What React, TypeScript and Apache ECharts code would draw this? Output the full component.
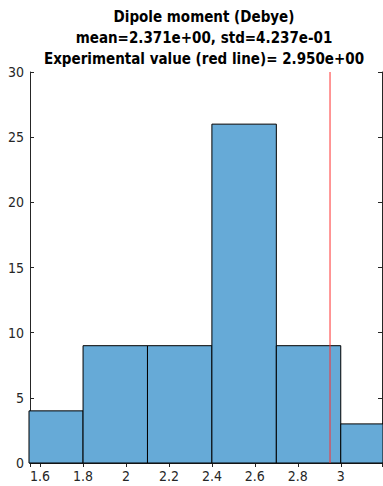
import React, { useEffect, useRef } from "react";
import * as echarts from "echarts";

// Histogram bin edges and counts
const binEdges = [1.5, 1.8, 2.1, 2.4, 2.7, 3.0, 3.3];
const binCounts = [4, 9, 9, 26, 9, 3];
const experimentalValue = 2.95;
const xRange = [1.553, 3.192];
const yTicks = [0, 5, 10, 15, 20, 25, 30];
const titleLines = [
  "Dipole moment (Debye)",
  "mean=2.371e+00, std=4.237e-01",
  "Experimental value (red line)= 2.950e+00",
];

const FONT = "'DejaVu Sans Condensed', 'DejaVu Sans', sans-serif";
const AXIS_COLOR = "#262626";

export default function App() {
  const ref = useRef<HTMLDivElement>(null);

  useEffect(() => {
    if (!ref.current) return;
    const chart = echarts.init(ref.current, undefined, { renderer: "svg" });

    const bins = binCounts.map((c, i) => [binEdges[i], binEdges[i + 1], c]);

    const renderBin = (params: any, api: any) => {
      const x0 = api.value(0);
      const x1 = api.value(1);
      const h = api.value(2);
      const p0 = api.coord([x0, h]);
      const p1 = api.coord([x1, 0]);
      const cs = params.coordSys;
      const shape = echarts.graphic.clipRectByRect(
        { x: p0[0], y: p0[1], width: p1[0] - p0[0], height: p1[1] - p0[1] },
        { x: cs.x - 1, y: cs.y, width: cs.width + 2, height: cs.height }
      );
      if (!shape) return null;
      return {
        type: "rect",
        shape,
        style: { fill: "rgb(102,170,215)", stroke: "#000", lineWidth: 1 },
      };
    };

    const axisCommon = {
      type: "value" as const,
      axisLine: { show: true, lineStyle: { color: AXIS_COLOR, width: 1 } },
      axisTick: { show: true, inside: true, length: 4, lineStyle: { color: AXIS_COLOR } },
      splitLine: { show: false },
    };

    chart.setOption({
      animation: false,
      grid: { left: 30, right: 1, top: 72, bottom: 23, containLabel: false },
      graphic: [
        {
          type: "text",
          x: 204,
          y: 7,
          style: {
            text: titleLines.join("\n"),
            font: `bold 15px ${FONT}`,
            fill: "#000",
            align: "center",
            lineHeight: 20.7,
          },
        },
      ],
      xAxis: [
        {
          ...axisCommon,
          min: xRange[0],
          max: xRange[1],
          splitNumber: 8,
          axisLabel: {
            show: true,
            color: AXIS_COLOR,
            fontFamily: FONT,
            fontSize: 14,
            margin: 6,
            showMinLabel: false,
            showMaxLabel: false,
            formatter: (v: number) => String(Math.round(v * 10) / 10),
          },
        },
        {
          ...axisCommon,
          position: "top",
          min: xRange[0],
          max: xRange[1],
          splitNumber: 8,
          axisLabel: { show: false },
        },
      ],
      yAxis: [
        {
          ...axisCommon,
          min: yTicks[0],
          max: yTicks[yTicks.length - 1],
          interval: 5,
          axisLabel: {
            show: true,
            color: AXIS_COLOR,
            fontFamily: FONT,
            fontSize: 14,
            margin: 6,
          },
        },
        {
          ...axisCommon,
          position: "right",
          min: yTicks[0],
          max: yTicks[yTicks.length - 1],
          interval: 5,
          axisLabel: { show: false },
        },
      ],
      series: [
        {
          type: "custom",
          renderItem: renderBin,
          data: bins,
          encode: { x: [0, 1], y: 2 },
          z: 2,
        },
        {
          type: "line",
          data: [
            [experimentalValue, 0],
            [experimentalValue, 30],
          ],
          symbol: "none",
          lineStyle: { color: "#ff3030", width: 1 },
          z: 5,
        },
      ],
    });

    return () => chart.dispose();
  }, []);

  return <div ref={ref} style={{ width: 383, height: 486, position: "absolute", left: 0, top: 0 }} />;
}
